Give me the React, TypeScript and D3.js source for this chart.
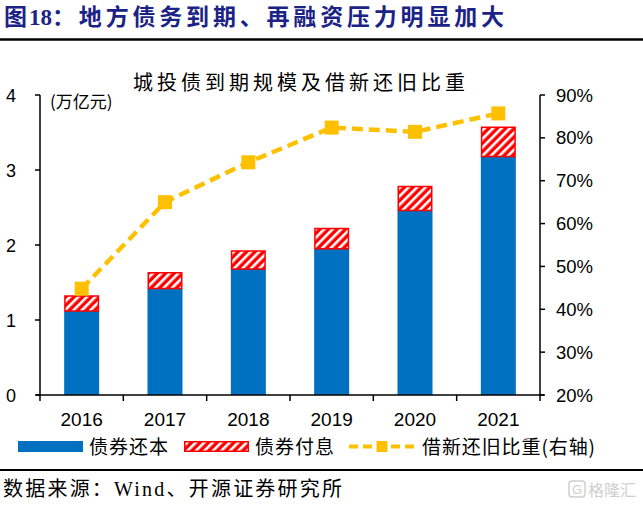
import React, { useEffect, useRef } from 'react';
import { line, scaleBand, scaleLinear, select } from 'd3';

const years = ['2016', '2017', '2018', '2019', '2020', '2021'];
const principal = [1.12, 1.42, 1.68, 1.95, 2.46, 3.18];
const interest = [0.21, 0.22, 0.25, 0.28, 0.33, 0.4];
const refinanceRatio = [44.8, 65.0, 74.3, 82.4, 81.4, 85.7];
const leftTicks = [0, 1, 2, 3, 4];
const rightTicks = [20, 30, 40, 50, 60, 70, 80, 90];

const App = () => {
  const chartRef = useRef<SVGSVGElement | null>(null);

  useEffect(() => {
    const svg = select(chartRef.current);
    const width = 643;
    const height = 505;
    const plot = { left: 40, right: 540, top: 95, bottom: 395 };
    const cjk = '"Noto Sans CJK SC", sans-serif';
    const latin = '"Liberation Sans", Arial, sans-serif';
    const blue = '#0070C0';
    const red = '#FF0000';
    const gold = '#FFC000';

    svg.selectAll('*').remove();
    svg.attr('width', width).attr('height', height);

    // hatch for interest part
    const pat = svg
      .append('defs')
      .append('pattern')
      .attr('id', 'hatch')
      .attr('patternUnits', 'userSpaceOnUse')
      .attr('width', 6)
      .attr('height', 6)
      .attr('patternTransform', 'rotate(45)');
    pat.append('rect').attr('width', 6).attr('height', 6).attr('fill', red);
    pat.append('rect').attr('x', 0).attr('width', 2.6).attr('height', 6).attr('fill', '#fff');

    // header
    const title = svg
      .append('text')
      .attr('y', 25)
      .style('font-family', '"Liberation Serif", "Noto Sans CJK SC", serif')
      .style('font-weight', 'bold')
      .style('font-size', '23px')
      .attr('fill', '#1c2386');
    title.append('tspan').attr('x', 4).text('图');
    title.append('tspan').attr('x', 29).text('18');
    title
      .append('tspan')
      .attr('x', 52)
      .attr('textLength', 452)
      .attr('lengthAdjust', 'spacing')
      .text('：地方债务到期、再融资压力明显加大');
    svg
      .append('line')
      .attr('x1', 0)
      .attr('x2', width)
      .attr('y1', 39.5)
      .attr('y2', 39.5)
      .attr('stroke', '#000')
      .attr('stroke-width', 2.5);

    svg
      .append('text')
      .attr('x', 133)
      .attr('y', 90)
      .attr('textLength', 332)
      .attr('lengthAdjust', 'spacing')
      .style('font-family', cjk)
      .style('font-size', '20px')
      .attr('fill', '#000')
      .text('城投债到期规模及借新还旧比重');
    svg
      .append('text')
      .attr('x', 50)
      .attr('y', 108)
      .style('font-family', cjk)
      .style('font-size', '17px')
      .attr('fill', '#000')
      .text('(万亿元)');

    const x = scaleBand()
      .domain(years)
      .range([plot.left, plot.right])
      .paddingInner(0.58)
      .paddingOuter(0.29);
    const yLeft = scaleLinear().domain([0, 4]).range([plot.bottom, plot.top]);
    const yRight = scaleLinear().domain([20, 90]).range([plot.bottom, plot.top]);

    const g = svg.append('g');

    // bars
    g.selectAll('.base')
      .data(years)
      .enter()
      .append('rect')
      .attr('x', (d) => x(d) ?? 0)
      .attr('y', (_, i) => yLeft(principal[i]))
      .attr('width', x.bandwidth())
      .attr('height', (_, i) => yLeft(0) - yLeft(principal[i]))
      .attr('fill', blue);
    g.selectAll('.int')
      .data(years)
      .enter()
      .append('rect')
      .attr('x', (d) => (x(d) ?? 0) + 0.75)
      .attr('y', (_, i) => yLeft(principal[i] + interest[i]) + 0.75)
      .attr('width', x.bandwidth() - 1.5)
      .attr('height', (_, i) => yLeft(principal[i]) - yLeft(principal[i] + interest[i]) - 0.75)
      .attr('fill', 'url(#hatch)')
      .attr('stroke', red)
      .attr('stroke-width', 1.5);

    // axes
    const axis = svg.append('g').attr('stroke', '#000').attr('stroke-width', 1.5);
    axis.append('line').attr('x1', plot.left).attr('x2', plot.left).attr('y1', plot.top).attr('y2', plot.bottom);
    axis.append('line').attr('x1', plot.right).attr('x2', plot.right).attr('y1', plot.top).attr('y2', plot.bottom);
    axis.append('line').attr('x1', plot.left - 4).attr('x2', plot.right + 4).attr('y1', plot.bottom).attr('y2', plot.bottom);

    leftTicks.forEach((t) => {
      axis.append('line').attr('x1', plot.left - 5).attr('x2', plot.left).attr('y1', yLeft(t)).attr('y2', yLeft(t));
      svg
        .append('text')
        .attr('x', 16)
        .attr('y', yLeft(t) + 6.5)
        .attr('text-anchor', 'end')
        .style('font-family', latin)
        .style('font-size', '18px')
        .text(String(t));
    });
    rightTicks.forEach((t) => {
      axis.append('line').attr('x1', plot.right).attr('x2', plot.right + 5).attr('y1', yRight(t)).attr('y2', yRight(t));
      svg
        .append('text')
        .attr('x', 556)
        .attr('y', yRight(t) + 6.5)
        .style('font-family', latin)
        .style('font-size', '18.5px')
        .text(`${t}%`);
    });
    for (let i = 0; i <= years.length; i++) {
      const tx = plot.left + i * x.step();
      axis.append('line').attr('x1', tx).attr('x2', tx).attr('y1', plot.bottom).attr('y2', plot.bottom + 6);
    }
    years.forEach((yr) => {
      svg
        .append('text')
        .attr('x', (x(yr) ?? 0) + x.bandwidth() / 2)
        .attr('y', 426)
        .attr('text-anchor', 'middle')
        .style('font-family', latin)
        .style('font-size', '19px')
        .text(yr);
    });

    // ratio line
    const cx = (i: number) => (x(years[i]) ?? 0) + x.bandwidth() / 2;
    const path = line<number>()
      .x((_, i) => cx(i))
      .y((d) => yRight(d));
    svg
      .append('path')
      .attr('d', path(refinanceRatio))
      .attr('fill', 'none')
      .attr('stroke', gold)
      .attr('stroke-width', 4.5)
      .attr('stroke-dasharray', '11,6');
    svg
      .selectAll('.mk')
      .data(refinanceRatio)
      .enter()
      .append('rect')
      .attr('x', (_, i) => cx(i) - 7)
      .attr('y', (d) => yRight(d) - 7)
      .attr('width', 14)
      .attr('height', 14)
      .attr('fill', gold);

    // legend
    const lg = svg.append('g').style('font-family', cjk).style('font-size', '19px');
    lg.append('rect').attr('x', 18).attr('y', 441).attr('width', 65).attr('height', 11).attr('fill', blue);
    lg.append('text').attr('x', 89).attr('y', 454).attr('textLength', 79).text('债券还本');
    lg.append('rect')
      .attr('x', 184.75)
      .attr('y', 441.75)
      .attr('width', 63.5)
      .attr('height', 9.5)
      .attr('fill', 'url(#hatch)')
      .attr('stroke', red)
      .attr('stroke-width', 1.5);
    lg.append('text').attr('x', 255).attr('y', 454).attr('textLength', 79).text('债券付息');
    lg.append('line')
      .attr('x1', 349)
      .attr('x2', 415)
      .attr('y1', 446.5)
      .attr('y2', 446.5)
      .attr('stroke', gold)
      .attr('stroke-width', 4)
      .attr('stroke-dasharray', '9,5');
    lg.append('rect').attr('x', 376.5).attr('y', 441).attr('width', 11).attr('height', 11).attr('fill', gold);
    lg.append('text').attr('x', 422).attr('y', 454).attr('textLength', 173).text('借新还旧比重(右轴)');

    // footer
    svg
      .append('line')
      .attr('x1', 0)
      .attr('x2', width)
      .attr('y1', 470)
      .attr('y2', 470)
      .attr('stroke', '#000')
      .attr('stroke-width', 2);
    svg
      .append('text')
      .attr('x', 3)
      .attr('y', 496)
      .attr('textLength', 339)
      .attr('lengthAdjust', 'spacing')
      .style('font-family', '"Liberation Serif", "Noto Sans CJK SC", serif')
      .style('font-size', '20px')
      .text('数据来源：Wind、开源证券研究所');

    // watermark
    svg
      .append('rect')
      .attr('x', 569)
      .attr('y', 481)
      .attr('width', 16)
      .attr('height', 16)
      .attr('rx', 3)
      .attr('fill', 'none')
      .attr('stroke', '#cfcfcf')
      .attr('stroke-width', 1.5);
    svg
      .append('text')
      .attr('x', 577)
      .attr('y', 494)
      .attr('text-anchor', 'middle')
      .style('font-family', latin)
      .style('font-size', '13px')
      .attr('fill', '#cfcfcf')
      .text('G');
    svg
      .append('text')
      .attr('x', 588)
      .attr('y', 496)
      .style('font-family', cjk)
      .style('font-size', '16px')
      .attr('fill', '#cfcfcf')
      .text('格隆汇');
  }, []);

  return (
    <svg
      ref={chartRef}
      style={{ position: 'absolute', left: 0, top: 0, display: 'block', background: '#fff' }}
    />
  );
};

export default App;
